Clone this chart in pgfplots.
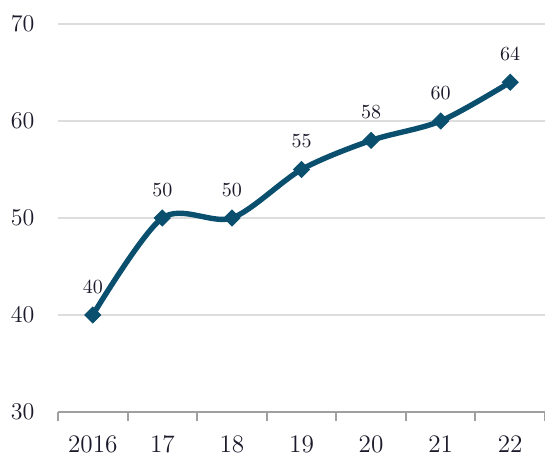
\documentclass[border=0pt]{standalone}
\usepackage{pgfplots}
\pgfplotsset{compat=1.18}
\definecolor{lineblue}{HTML}{0B4F6E}
\definecolor{gridgray}{HTML}{DDDDDD}
\definecolor{axisgray}{HTML}{A0A0A0}
\definecolor{txt}{HTML}{1A1A2A}

\begin{document}
\begin{tikzpicture}
\useasboundingbox (-29pt,-24pt) rectangle (243.5pt,206pt);
\begin{axis}[
  at={(0,0)}, anchor=south west,
  scale only axis,
  width=243.5pt, height=194pt,
  xmin=-0.5, xmax=6.5,
  ymin=30, ymax=70,
  xtick={0,...,6},
  xticklabels={2016,17,18,19,20,21,22},
  ytick={30,40,50,60,70},
  minor xtick={-0.5,0.5,...,6.5},
  major x tick style={draw=none},
  minor x tick style={draw=axisgray, line width=1pt},
  minor tick length=4.5pt,
  xtick pos=bottom, ytick pos=left,
  tick align=outside,
  major y tick style={draw=none},
  axis line style={draw=none},
  axis x line*=bottom,
  x axis line style={draw=axisgray, line width=1pt, -},
  ymajorgrids,
  grid style={gridgray, line width=1pt},
  tick label style={font=\fontsize{12.6}{14}\selectfont, text=txt},
  xticklabel style={yshift=-4pt},
  yticklabel style={xshift=-4pt},
  clip=false,
  nodes near coords,
  every node near coord/.style={anchor=center, yshift=14pt, font=\fontsize{10.2}{12}\selectfont, text=txt},
]
\addplot[lineblue, line width=2.7pt, smooth, tension=0.5,
  mark=square*, mark size=2.8pt,
  mark options={rotate=45, solid, line width=0.5pt, fill=lineblue}]
  coordinates {(0,40) (1,50) (2,50) (3,55) (4,58) (5,60) (6,64)};
\end{axis}
\end{tikzpicture}
\end{document}
